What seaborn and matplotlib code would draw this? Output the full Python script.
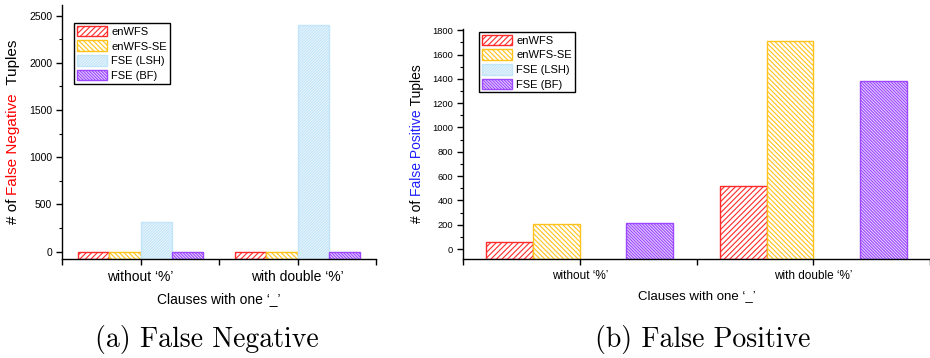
import numpy as np
import pandas as pd
import matplotlib
matplotlib.use("Agg")
import matplotlib.pyplot as plt
import seaborn as sns
from matplotlib.patches import Patch
from matplotlib.ticker import MultipleLocator, FixedLocator

# ---------------- data ----------------
groups = ["without \u2018%\u2019", "with double \u2018%\u2019"]
methods = ["enWFS", "enWFS-SE", "FSE (LSH)", "FSE (BF)"]

fn_enwfs = [0, 0]
fn_enwfs_se = [0, 0]
fn_fse_lsh = [310, 2400]
fn_fse_bf = [0, 0]

fp_enwfs = [60, 520]
fp_enwfs_se = [205, 1715]
fp_fse_lsh = [np.nan, np.nan]
fp_fse_bf = [215, 1380]

xlabel = "Clauses with one \u2018_\u2019"
fn_ylabel = [("# of ", "black"), ("False Negative", "#FF0000"), ("  Tuples", "black")]
fp_ylabel = [("# of ", "black"), ("False Positive", "#1E1EFF"), (" Tuples", "black")]
captions = ["(a) False Negative", "(b) False Positive"]

# ---------------- style ----------------
plt.rcParams["font.family"] = ["Liberation Sans", "DejaVu Sans"]
plt.rcParams["hatch.linewidth"] = 0.8

styles = {
    "enWFS": dict(facecolor="white", edgecolor="#FF2A2A", hatch="//////"),
    "enWFS-SE": dict(facecolor="white", edgecolor="#FFC21A", hatch="\\" * 7),
    "FSE (LSH)": dict(facecolor="#EDF7FD", edgecolor="#C2E5F9", hatch="/" * 12),
    "FSE (BF)": dict(facecolor="#E6D4FF", edgecolor="#9D47FF", hatch="\\" * 11),
}


def make_df(cols):
    rows = []
    for m, vals in zip(methods, cols):
        for g, v in zip(groups, vals):
            rows.append({"group": g, "method": m, "value": v})
    return pd.DataFrame(rows)


W, H = 930, 358
fig = plt.figure(figsize=(W / 100, H / 100), dpi=100)


def px_axes(x0, y0, x1, y1):
    return fig.add_axes([x0 / W, 1 - y1 / H, (x1 - x0) / W, (y1 - y0) / H])


axL = px_axes(62, 5, 376, 259)
axR = px_axes(463, 29, 930, 259)


def draw_panel(ax, df, ylim, major, minor, ytick_fs, xtick_fs, xlab_fs, legend_anchor):
    sns.barplot(data=df, x="group", y="value", hue="method", order=groups,
                hue_order=methods, errorbar=None, width=0.8, ax=ax, legend=False)
    base = ylim[0]
    if len(ax.containers) == len(methods):
        labels = methods
    else:
        labels = [m for m in methods if df.loc[df.method == m, "value"].notna().any()]
    for cont, m in zip(ax.containers, labels):
        for p in cont.patches:
            h = p.get_height()
            if np.isnan(h):
                p.set_visible(False)
                continue
            p.set_y(base)
            p.set_height(h - base)
            p.set_facecolor(styles[m]["facecolor"])
            p.set_edgecolor(styles[m]["edgecolor"])
            p.set_hatch(styles[m]["hatch"])
            p.set_linewidth(1.0)
    ax.set_xlim(-0.5, 1.5)
    ax.set_ylim(*ylim)
    ax.yaxis.set_major_locator(MultipleLocator(major))
    ax.yaxis.set_minor_locator(MultipleLocator(minor))
    ax.xaxis.set_minor_locator(FixedLocator([-0.5, 0.5, 1.5]))
    for s in ["top", "right"]:
        ax.spines[s].set_visible(False)
    for s in ["left", "bottom"]:
        ax.spines[s].set_linewidth(1.0)
    ax.tick_params(axis="y", which="major", length=4, width=1, labelsize=ytick_fs, pad=3)
    ax.tick_params(axis="y", which="minor", length=2, width=0.8)
    ax.tick_params(axis="x", which="both", length=4, width=1, labelsize=xtick_fs, pad=4)
    ax.set_xlabel(xlabel, fontsize=xlab_fs, labelpad=6)
    ax.set_ylabel("")
    handles = [Patch(label=m, linewidth=1.0, **styles[m]) for m in methods]
    leg = ax.legend(handles=handles, loc="upper left", bbox_to_anchor=legend_anchor,
                    fontsize=8, frameon=True, fancybox=False, framealpha=1,
                    edgecolor="black", handlelength=2.7, handleheight=1.1,
                    labelspacing=0.32, handletextpad=0.4, borderpad=0.25,
                    borderaxespad=0)
    leg.get_frame().set_linewidth(1.0)


draw_panel(axL, make_df([fn_enwfs, fn_enwfs_se, fn_fse_lsh, fn_fse_bf]),
           (-78, 2613), 500, 250, 7.5, 10, 10, (0.038, 0.929))
draw_panel(axR, make_df([fp_enwfs, fp_enwfs_se, fp_fse_lsh, fp_fse_bf]),
           (-82, 1810), 200, 100, 6.7, 8.5, 9.5, (0.034, 0.988))


def multicolor_ylabel(ax, parts, x_px, fontsize):
    renderer = fig.canvas.get_renderer()

    def length(s):
        t = fig.text(0, 0, s + "x", rotation=90, fontsize=fontsize)
        tx = fig.text(0, 0, "x", rotation=90, fontsize=fontsize)
        L = t.get_window_extent(renderer).height - tx.get_window_extent(renderer).height
        t.remove(); tx.remove()
        return L

    lens = [length(s) for s, _ in parts]
    total = sum(lens)
    bb = ax.get_window_extent(renderer)
    yc = (bb.y0 + bb.y1) / 2
    y = yc - total / 2
    for (s, c), L in zip(parts, lens):
        fig.text(x_px / W, y / H, s, rotation=90, color=c, fontsize=fontsize,
                 ha="center", va="bottom")
        y += L


multicolor_ylabel(axL, fn_ylabel, 13, 11)
multicolor_ylabel(axR, fp_ylabel, 417, 10)

fig.text(207 / W, 1 - 339 / H, captions[0], family="cmr10", fontsize=20,
         ha="center", va="center")
fig.text(703 / W, 1 - 339 / H, captions[1], family="cmr10", fontsize=20,
         ha="center", va="center")

fig.savefig("out.png", dpi=100)
